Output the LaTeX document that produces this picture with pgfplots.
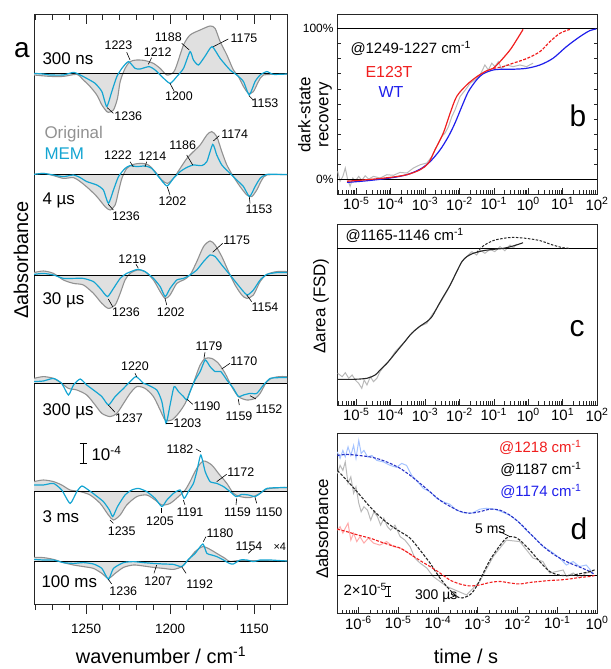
\documentclass[border=0pt]{standalone}
\usepackage{fontspec}
\setmainfont{Liberation Sans}
\usepackage{pgfplots}
\usepackage{pgfplotstable}
\pgfplotsset{compat=1.18}
\usepgfplotslibrary{fillbetween}

\definecolor{mem}{RGB}{20,165,210}
\definecolor{origline}{RGB}{145,145,145}
\definecolor{origfill}{RGB}{224,224,224}
\definecolor{cred}{RGB}{240,30,30}
\definecolor{cblue}{RGB}{30,30,235}
\definecolor{lgray}{RGB}{185,185,185}
\definecolor{lblue}{RGB}{165,195,255}
\definecolor{lred}{RGB}{255,170,170}
\definecolor{dblue}{RGB}{40,50,200}
\definecolor{dblack}{RGB}{40,40,40}
\newcommand\fs[1]{\fontsize{#1}{#1}\selectfont}

% ---------- panel a: spectra (w = wavenumber, v = dA in 1e-4, relative to own baseline)
\pgfplotstableread{
w v
1281 -0.05
1271.4 -0.12
1263.5 -0.12
1255.5 -0.02
1251.6 -0.30
1247.6 -0.63
1243.6 -1.05
1240.6 -1.55
1237.7 -1.88
1236.7 -1.92
1233.7 -1.80
1231.3 -1.22
1229.7 -0.38
1226.8 0.28
1223.8 0.62
1219.8 0.70
1214.9 0.67
1209.9 0.53
1205.9 0.28
1201.9 -0.05
1198 0.08
1196 0.45
1192 1.45
1188.1 1.95
1182.1 2.20
1176.2 2.40
1173.2 2.28
1170.2 1.62
1166.2 0.95
1162.3 0.20
1159.3 -0.13
1156.3 -0.63
1153.3 -0.97
1150.4 -0.88
1147.4 -0.38
1144.4 -0.05
1134.5 -0.02
1130.4 0
}\oA
\pgfplotstableread{
w v
1281 0.03
1275.4 0
1271.4 -0.05
1263.5 -0.05
1257.5 0.08
1253.5 -0.05
1249.6 -0.22
1244.6 -0.47
1240.6 -0.88
1237.7 -1.63
1234.7 -0.88
1231.7 -0.13
1228.7 0.28
1224.8 0.62
1220.8 0.28
1217.8 0.25
1212.5 0.37
1208.9 0.20
1204.9 -0.13
1200.0 -0.47
1196 -0.13
1192 0.28
1188.1 1.12
1186.1 0.70
1183.1 0.45
1179.1 0.90
1175.0 1.37
1170.2 0.78
1164.3 0.20
1160.3 -0.05
1156.3 -0.38
1152.9 -1.05
1149.4 -0.38
1146.4 -0.05
1142.4 0.12
1138.5 -0.02
1130.4 0
}\mA
\pgfplotstableread{
w v
1281 0.03
1275.4 0.08
1269.4 -0.03
1263.5 -0.17
1257.5 -0.13
1253.5 -0.33
1248.6 -0.67
1243.6 -1.08
1238.7 -1.58
1235.7 -1.75
1232.7 -1.50
1230.7 -0.83
1228.7 -0.17
1225.8 0.33
1221.8 0.53
1216.8 0.58
1212.9 0.50
1208.9 0.17
1204.9 -0.25
1201.6 -0.42
1198 -0.17
1194 0.33
1190 0.83
1186.1 1.17
1182.1 1.50
1178.1 2.00
1175.2 2.17
1172.2 1.92
1169.2 1.17
1166.2 0.50
1162.3 -0.08
1158.3 -0.58
1154.3 -1.00
1151.4 -1.08
1148.4 -0.75
1145.4 -0.25
1142.4 0
1130.4 0.02
}\oB
\pgfplotstableread{
w v
1281 0.03
1275.4 0.08
1269.4 0
1263.5 -0.08
1257.5 0
1253.5 -0.13
1249.6 -0.33
1243.6 -0.50
1239.7 -0.75
1236.7 -1.42
1233.7 -0.75
1230.7 -0.08
1226.8 0.33
1223.8 0.47
1219.8 0.42
1214.9 0.45
1210.9 0.33
1206.9 -0.08
1201.9 -0.55
1198 -0.17
1194 0.17
1190 0.38
1186.1 0.50
1181.1 0.47
1178.1 0.67
1174.6 1.53
1172.2 1.00
1169.2 0.50
1164.3 0.08
1160.3 -0.25
1156.3 -0.58
1152.7 -1.08
1149.4 -0.58
1146.4 -0.17
1142.4 0.03
1130.4 0.02
}\mB
\pgfplotstableread{
w v
1281 0.17
1275.4 0.25
1269.4 0.13
1263.5 -0.20
1257.5 -0.37
1251.6 -0.45
1245.6 -0.87
1240.6 -1.37
1236.7 -1.62
1232.7 -1.45
1229.7 -0.87
1226.8 -0.20
1223.8 0.13
1219.4 0.30
1214.9 0.22
1209.9 -0.20
1205.9 -0.78
1202.9 -1.12
1200 -0.95
1196 -0.37
1192 -0.20
1188.1 0.05
1184.1 0.72
1180.1 1.47
1176.2 1.75
1173.2 1.55
1169.2 0.97
1165.2 0.22
1161.3 -0.45
1157.3 -0.95
1154.3 -1.12
1150.4 -0.95
1146.4 -0.28
1142.4 0.08
1136.5 0.22
1130.4 0.22
}\oC
\pgfplotstableread{
w v
1281 0.08
1275.4 0.13
1269.4 0.05
1263.5 -0.12
1257.5 -0.12
1251.6 -0.12
1245.6 -0.28
1241.6 -0.62
1237.3 -1.03
1233.7 -0.62
1229.7 -0.12
1225.8 0.13
1219.4 0.33
1214.9 0.22
1209.9 -0.12
1205.9 -0.53
1202.9 -1.03
1200 -0.62
1196 -0.20
1192 -0.12
1188.1 0.05
1184.1 0.30
1180.1 0.72
1176.2 1.05
1173.2 0.97
1169.2 0.55
1164.3 0.05
1160.3 -0.37
1156.3 -0.78
1153.9 -0.95
1150.4 -0.70
1146.4 -0.20
1142.4 0.08
1136.5 0.17
1130.4 0.17
}\mC
\pgfplotstableread{
w v
1281 0.28
1275.4 0.37
1269.4 0.28
1264.5 0.03
1260.5 -0.22
1255.5 -0.30
1249.6 -0.55
1244.6 -1.05
1240.6 -1.47
1235.7 -1.63
1231.7 -1.47
1227.7 -0.97
1223.8 -0.47
1219.8 -0.13
1214.9 -0.22
1209.9 -0.63
1205.9 -1.30
1202.9 -1.80
1199 -1.80
1195 -1.47
1191 -0.97
1188.1 -0.38
1185.1 0.28
1182.1 0.95
1179.1 1.28
1175.2 1.28
1171.2 1.03
1167.2 0.53
1163.3 -0.13
1159.3 -0.63
1154.3 -0.80
1149.4 -0.72
1146.4 -0.47
1142.4 0.12
1138.5 0.32
1134.5 0.37
1130.4 0.37
}\oD
\pgfplotstableread{
w v
1281 0.12
1275.4 0.15
1269.4 0.28
1264.5 0.03
1260.5 -0.55
1257.5 -0.05
1253.5 0.25
1249.6 -0.05
1245.6 -0.30
1240.6 -0.63
1236.7 -1.05
1232.7 -0.63
1227.7 -0.22
1223.8 0.12
1220.2 0.37
1215.8 0.03
1213.9 -0.02
1207.9 -0.30
1204.9 -0.88
1202.4 -1.97
1200 -1.05
1197.6 -0.13
1195 -0.38
1192 -0.63
1190 -0.80
1188.1 -0.38
1185.1 0.20
1182.1 0.62
1179.1 1.20
1176.2 0.87
1173.2 0.62
1169.8 0.62
1166.2 0.20
1162.3 -0.22
1159.3 -0.63
1156.3 -0.55
1152.4 -0.47
1148.4 -0.47
1144.4 -0.05
1140.4 0.28
1134.5 0.32
1130.4 0.32
}\mD
\pgfplotstableread{
w v
1281 0.47
1275.4 0.55
1269.4 0.47
1264.5 0.30
1259.5 0.05
1253.5 -0.03
1247.6 -0.20
1241.6 -0.62
1236.7 -1.20
1233.7 -1.45
1229.7 -1.20
1225.8 -0.70
1219.8 -0.28
1213.9 -0.20
1208.9 -0.45
1204.9 -0.70
1200 -0.62
1195 -0.28
1191 0.05
1188.1 0.47
1184.1 1.13
1180.1 1.50
1175.2 1.30
1171.2 0.88
1166.2 0.38
1162.3 -0.12
1158.3 -0.28
1152.4 -0.33
1146.4 -0.12
1142.4 0.10
1134.5 0.17
1130.4 0.17
}\oE
\pgfplotstableread{
w v
1281 0.30
1275.4 0.30
1269.4 0.38
1264.5 0.05
1259.5 -0.62
1255.5 -0.03
1252.5 0.25
1248.6 0.05
1244.6 -0.20
1239.7 -0.53
1236.1 -0.95
1234.1 -1.28
1231.3 -0.78
1226.8 -0.20
1222.8 0.05
1218.8 0.13
1213.9 -0.03
1208.9 -0.37
1204.9 -0.78
1201.9 -0.45
1198 -0.12
1194 0.05
1191.6 -0.37
1189.1 -0.03
1186.1 0.38
1184.1 0.97
1181.7 1.80
1179.1 0.97
1176.2 0.47
1172.2 0.38
1168.2 0.22
1164.3 -0.03
1160.7 -0.28
1157.3 -0.17
1153.3 -0.20
1149.4 -0.28
1146.4 -0.12
1142.4 0.13
1134.5 0.17
1130.4 0.17
}\mE
\pgfplotstableread{
w v
1281 0.18
1275.4 0.17
1269.4 0.08
1263.5 -0.08
1257.5 -0.20
1251.6 -0.28
1245.6 -0.37
1240.6 -0.62
1236.7 -0.87
1232.7 -0.62
1227.7 -0.32
1221.8 -0.20
1215.8 -0.25
1209.9 -0.32
1203.9 -0.37
1198 -0.42
1193 -0.28
1189.1 0.05
1185.1 0.47
1180.5 0.72
1176.2 0.58
1172.2 0.38
1167.2 0.13
1164.3 -0.03
1158.3 0.02
1130.4 0
}\oF
\pgfplotstableread{
w v
1281 0.08
1275.4 0.05
1269.4 0.05
1263.5 -0.08
1257.5 -0.12
1251.6 -0.08
1245.6 -0.15
1240.6 -0.37
1236.7 -0.92
1233.7 -0.37
1227.7 -0.08
1221.8 -0.03
1215.8 -0.08
1209.9 -0.12
1203.9 -0.15
1198 -0.17
1193 -0.28
1189.1 0.08
1185.1 0.38
1180.5 0.85
1178.1 0.38
1175.2 0.30
1172.2 0.22
1168.2 0.05
1164.7 -0.12
1162.3 -0.15
1158.3 0.05
1154.3 0.05
1150.4 -0.03
1146.4 0.05
1140.4 0.05
1134.5 0.02
1130.4 0
}\mF

% ---------- panel b (lt = log10 time/s, y = %)
\pgfplotstableread{
lt y
-5.27 -1
-4.69 0
-4.02 1.5
-3.53 3.3
-3.14 6.6
-2.90 11
-2.71 19.8
-2.47 30.8
-2.27 44
-2.08 55
-1.79 62.6
-1.50 68
-1.21 72
-1.02 73.6
-0.82 78
-0.53 85.7
-0.34 92.3
-0.15 99.3
}\bRed
\pgfplotstableread{
lt y
-1.02 73.6
-0.73 74.7
-0.44 77
-0.05 80
0.34 84.6
0.63 91.2
0.92 96.7
1.21 99.3
}\bRedD
\pgfplotstableread{
lt y
-5.27 -1.8
-4.69 -0.7
-4.02 1.1
-3.53 3.3
-3.14 7
-2.85 12
-2.56 19.8
-2.32 28.6
-2.13 37.4
-1.93 48.4
-1.74 58.2
-1.50 66
-1.31 70
-1.02 72.5
-0.73 73
-0.44 73
-0.05 73.6
0.34 75.8
0.72 80.2
1.11 87.9
1.50 94.5
1.79 98.5
1.98 99.6
}\bBlue
\pgfplotstableread{
lt y
-5.54 5.5
-5.47 -1
-5.39 2.2
-5.32 7.7
-5.25 0
-5.18 -4.4
-5.10 1.1
-5.03 -1
-4.93 2.2
-4.84 -0.4
-4.74 2.6
-4.64 0.4
-4.50 2.2
-4.31 1.1
-4.11 3.3
-3.92 2.9
-3.73 4.8
-3.53 4.4
-3.34 7.7
-3.14 9.9
-2.95 11
-2.80 15.4
-2.66 22
-2.51 28.6
-2.42 30.8
-2.32 35
-2.22 41.8
-2.13 46
-1.98 55
-1.83 59.3
-1.69 63.7
-1.55 66
-1.40 69.2
-1.26 75.8
-1.16 72.5
-1.06 77
-0.97 74.7
-0.87 78
-0.78 73.6
-0.63 75.8
-0.44 74.7
-0.24 75.8
-0.05 74.7
0.14 77
}\bGray

% ---------- panel c
\pgfplotstableread{
lt y
-5.54 0
-5.08 0
-4.69 0.008
-4.45 0.033
-4.31 0.071
-4.11 0.122
-3.87 0.198
-3.63 0.275
-3.39 0.351
-3.14 0.407
-2.95 0.44
-2.80 0.478
-2.61 0.567
-2.47 0.631
-2.27 0.72
-2.08 0.822
-1.93 0.898
-1.79 0.936
-1.60 0.962
-1.31 0.982
-1.02 0.992
-0.73 1.0
-0.44 1.018
-0.15 1.043
}\cBlack
\pgfplotstableread{
lt y
-1.50 0.967
-1.31 1.018
-1.02 1.059
-0.73 1.076
-0.44 1.084
-0.05 1.076
0.34 1.059
0.72 1.025
1.01 1.005
1.21 1.0
}\cDash
\pgfplotstableread{
lt y
-5.54 0.046
-5.41 0.020
-5.32 0.051
-5.22 0.008
-5.12 0.033
-5.03 -0.005
-4.93 -0.031
-4.84 -0.069
-4.77 -0.005
-4.69 -0.043
-4.59 0.020
-4.50 -0.018
-4.40 0.008
-4.31 0.059
-4.16 0.109
-4.02 0.148
-3.87 0.211
-3.73 0.249
-3.58 0.288
-3.44 0.338
-3.29 0.377
-3.14 0.407
-2.95 0.427
-2.80 0.491
-2.66 0.542
-2.51 0.606
-2.37 0.669
-2.22 0.746
-2.08 0.822
-1.93 0.898
-1.79 0.936
-1.64 0.975
-1.50 0.949
-1.40 0.987
-1.26 0.962
-1.11 0.992
-0.97 0.975
-0.82 1.013
-0.68 0.982
-0.53 1.025
-0.44 1.0
-0.34 1.033
}\cGray

% ---------- panel d (v in 1e-5)
\pgfplotstableread{
lt v
-6.53 24.1
-6.29 24.3
-6.00 24.1
-5.71 23.8
-5.46 23.3
-5.20 22.5
-4.95 21.5
-4.70 20.1
-4.45 18.5
-4.20 16.8
-3.95 15.1
-3.70 13.9
-3.45 12.9
-3.20 12.5
-2.95 12.8
-2.69 13.3
-2.44 13.1
-2.19 12.1
-1.94 10.5
-1.69 8.5
-1.44 6.5
-1.19 4.8
-0.94 3.5
-0.69 2.5
-0.44 1.7
-0.18 0.8
-0.06 0.13
}\dBlueF
\pgfplotstableread{
lt v
-6.53 24.8
-6.46 23.5
-6.39 25.1
-6.33 23.8
-6.26 25.8
-6.19 24.1
-6.12 26.1
-6.06 23.5
-5.99 27.1
-5.93 24.5
-5.86 25.1
-5.77 23.8
-5.66 24.1
-5.54 23.1
-5.37 22.8
-5.20 22.1
-5.04 21.7
-4.91 22.5
-4.79 22.1
-4.66 20.1
-4.54 19.1
-4.37 17.5
-4.20 16.8
-4.03 15.5
-3.87 14.8
-3.70 14.3
-3.53 13.1
-3.36 12.6
-3.15 12.5
-2.95 13.3
-2.78 13.5
-2.57 13.3
-2.40 12.8
-2.19 12.1
-1.98 10.8
-1.78 9.1
-1.56 7.5
-1.36 5.8
-1.15 4.8
-0.94 3.5
-0.77 2.1
-0.60 2.8
-0.44 1.8
-0.27 2.1
-0.10 0.5
}\dBlueD
\pgfplotstableread{
lt v
-6.53 21.1
-6.29 19.1
-6.00 16.5
-5.71 13.8
-5.46 11.8
-5.20 10.1
-4.95 8.8
-4.70 7.5
-4.45 5.1
-4.20 2.5
-3.95 -0.5
-3.70 -2.9
-3.45 -4.5
-3.20 -3.9
-3.03 -2.2
-2.86 0.5
-2.69 3.1
-2.49 5.5
-2.28 7.5
-2.11 7.8
-1.94 7.1
-1.69 5.1
-1.44 2.8
-1.19 0.8
-0.94 0.07
-0.69 0
-0.44 0.33
-0.18 0.8
-0.06 1.13
}\dBlackF
\pgfplotstableread{
lt v
-6.53 20.5
-6.46 22.1
-6.39 21.1
-6.33 22.8
-6.26 18.5
-6.19 19.8
-6.12 16.5
-6.06 17.8
-5.99 14.5
-5.93 12.8
-5.86 13.8
-5.77 13.1
-5.69 11.1
-5.61 12.8
-5.52 11.8
-5.44 10.1
-5.36 11.5
-5.27 9.8
-5.19 9.1
-5.08 10.1
-4.95 7.8
-4.83 7.1
-4.70 5.8
-4.58 3.5
-4.45 2.5
-4.28 1.5
-4.12 -0.2
-3.95 -1.2
-3.78 -2.2
-3.28 -3.9
-2.95 -1.2
-2.61 3.8
-2.28 7.1
-1.94 6.8
-1.61 3.5
-1.36 2.8
-1.19 0.5
-1.02 0.8
-0.85 1.1
-0.77 -0.2
-0.60 0.5
-0.44 -0.5
-0.27 0.5
-0.10 0.8
}\dBlackD
\pgfplotstableread{
lt v
-6.53 9.3
-6.29 8.8
-6.00 8.1
-5.71 7.5
-5.46 6.8
-5.20 6.1
-4.95 5.5
-4.70 4.3
-4.45 3.0
-4.20 1.8
-3.95 0.5
-3.70 -0.9
-3.45 -1.7
-3.20 -2.1
-2.95 -1.9
-2.69 -1.4
-2.44 -1.2
-2.19 -1.5
-1.94 -1.7
-1.69 -1.4
-1.44 -1.2
-1.19 -1.0
-0.94 -0.9
-0.69 -0.7
-0.44 -0.4
-0.18 -0.2
-0.06 0
}\dRedF
\pgfplotstableread{
lt v
-6.53 9.1
-6.46 9.8
-6.39 8.5
-6.33 9.5
-6.26 10.5
-6.19 7.1
-6.12 8.5
-6.04 6.8
-5.96 7.8
-5.86 6.5
-5.75 7.5
-5.62 6.5
-5.46 6.1
-5.29 6.8
-5.12 5.8
-4.95 5.5
-4.79 4.8
-4.62 3.8
}\dRedD

\newcommand\spec[4]{%
  \addplot[draw=none, smooth, tension=0.45, name path=g#4] table[x=w, y expr=\thisrow{v}+#3]{#1};
  \addplot[draw=none, name path=z#4] coordinates {(1281,#3) (1130.4,#3)};
  \addplot[origfill] fill between[of=g#4 and z#4];
  \addplot[origline, line width=1.1pt, smooth, tension=0.45] table[x=w, y expr=\thisrow{v}+#3]{#1};
  \addplot[black, line width=1pt] coordinates {(1281,#3) (1130.4,#3)};
  \addplot[mem, line width=1.2pt, smooth, tension=0.35] table[x=w, y expr=\thisrow{v}+#3]{#2};
}

\pgfplotsset{
  pa/.style={at={(34bp,655bp)}, anchor=north west, scale only axis, width=253bp, height=590bp,
    xmin=1130.4, xmax=1281, x dir=reverse, ymin=0, ymax=29.5, ytick=\empty,
    xtick={1150,1200,1250}, minor xtick={1140,1160,1170,1180,1190,1210,1220,1230,1240,1260,1270,1280},
    major tick length=10bp, minor tick length=6bp,
    axis line style={line width=0.9pt, black!85}, tick style={line width=0.8pt, black!85}},
  rp/.style={anchor=north west, scale only axis, width=260bp,
    xtick pos=left, tick align=inside, major tick length=6bp, minor tick length=3.5bp,
    axis line style={line width=0.9pt, black!85}, tick style={line width=0.6pt, black!85},
    ticklabel style={font=\fs{15}}},
  bcx/.style={xmin=2.75e-6, xmax=100,
    xtick={1e-5,1e-4,1e-3,1e-2,1e-1,1,10,100},
    xticklabels={10\textsuperscript{-5},10\textsuperscript{-4},10\textsuperscript{-3},10\textsuperscript{-2},10\textsuperscript{-1},10\textsuperscript{0},10\textsuperscript{1},10\textsuperscript{2}},
    minor xtick={3e-6,4e-6,5e-6,6e-6,7e-6,8e-6,9e-6,2e-5,3e-5,4e-5,5e-5,6e-5,7e-5,8e-5,9e-5,2e-4,3e-4,4e-4,5e-4,6e-4,7e-4,8e-4,9e-4,2e-3,3e-3,4e-3,5e-3,6e-3,7e-3,8e-3,9e-3,2e-2,3e-2,4e-2,5e-2,6e-2,7e-2,8e-2,9e-2,0.2,0.3,0.4,0.5,0.6,0.7,0.8,0.9,2,3,4,5,6,7,8,9,20,30,40,50,60,70,80,90}},
  fit/.style={smooth, tension=0.5}
}

\begin{document}
\begin{tikzpicture}

% ===== panel a
\begin{axis}[pa, xtick pos=left, tick align=outside,
  xticklabels={1150,1200,1250}, xticklabel style={font=\fs{13.5}, yshift=-7bp}]
\spec{\oA}{\mA}{26.5}{A}
\spec{\oB}{\mB}{21.45}{B}
\spec{\oC}{\mC}{16.4}{C}
\spec{\oD}{\mD}{11.0}{D}
\spec{\oE}{\mE}{5.65}{E}
\spec{\oF}{\mF}{2.15}{F}
\end{axis}
\begin{axis}[pa, axis x line*=top, axis y line=none, tick align=inside, xticklabels={}]
\addplot[draw=none] coordinates {(1200,10) (1210,12)};
\end{axis}

% ===== panel b
\begin{semilogxaxis}[rp, bcx, at={(337bp,655bp)}, height=180bp, ymin=-9.45, ymax=109.5,
  ytick={0,100}, yticklabels={0\%,100\%}, minor ytick={10,20,30,40,50,60,70,80,90},
  ytick pos=both, yticklabel pos=left, yticklabel style={font=\fs{12}}]
\addplot[lgray, line width=1pt] table[x expr=10^\thisrow{lt}, y=y]{\bGray};
\addplot[black, line width=0.7pt] coordinates {(2.75e-6,0) (100,0)};
\addplot[black, line width=0.7pt] coordinates {(2.75e-6,100) (100,100)};
\addplot[cblue, line width=1.2pt, fit] table[x expr=10^\thisrow{lt}, y=y]{\bBlue};
\addplot[cred, line width=1.2pt, fit, dash pattern=on 3pt off 1.5pt] table[x expr=10^\thisrow{lt}, y=y]{\bRedD};
\addplot[cred, line width=1.2pt, fit] table[x expr=10^\thisrow{lt}, y=y]{\bRed};
\end{semilogxaxis}

% ===== panel c
\begin{semilogxaxis}[rp, bcx, at={(337bp,445bp)}, height=181bp, ymin=-0.196, ymax=1.186, ytick=\empty]
\addplot[lgray, line width=1pt] table[x expr=10^\thisrow{lt}, y=y]{\cGray};
\addplot[black, line width=0.7pt] coordinates {(2.75e-6,1) (100,1)};
\addplot[dblack, line width=1pt, fit, dash pattern=on 2.5pt off 1.5pt] table[x expr=10^\thisrow{lt}, y=y]{\cDash};
\addplot[dblack, line width=1.1pt, fit] table[x expr=10^\thisrow{lt}, y=y]{\cBlack};
\end{semilogxaxis}

% ===== panel d
\begin{semilogxaxis}[rp, at={(337bp,236bp)}, height=180bp, xmin=2.9e-7, xmax=1, ymin=-7.53, ymax=28.6, ytick=\empty,
  xtick={1e-6,1e-5,1e-4,1e-3,1e-2,1e-1,1},
  xticklabels={10\textsuperscript{-6},10\textsuperscript{-5},10\textsuperscript{-4},10\textsuperscript{-3},10\textsuperscript{-2},10\textsuperscript{-1},10\textsuperscript{0}},
  minor xtick={3e-7,4e-7,5e-7,6e-7,7e-7,8e-7,9e-7,2e-6,3e-6,4e-6,5e-6,6e-6,7e-6,8e-6,9e-6,2e-5,3e-5,4e-5,5e-5,6e-5,7e-5,8e-5,9e-5,2e-4,3e-4,4e-4,5e-4,6e-4,7e-4,8e-4,9e-4,2e-3,3e-3,4e-3,5e-3,6e-3,7e-3,8e-3,9e-3,2e-2,3e-2,4e-2,5e-2,6e-2,7e-2,8e-2,9e-2,0.2,0.3,0.4,0.5,0.6,0.7,0.8,0.9}]
\addplot[lblue, line width=1pt] table[x expr=10^\thisrow{lt}, y=v]{\dBlueD};
\addplot[lgray, line width=1pt] table[x expr=10^\thisrow{lt}, y=v]{\dBlackD};
\addplot[lred, line width=1pt] table[x expr=10^\thisrow{lt}, y=v]{\dRedD};
\addplot[black, line width=0.7pt] coordinates {(2.9e-7,0) (1,0)};
\addplot[dblue, line width=1.1pt, fit, dash pattern=on 3pt off 1.5pt] table[x expr=10^\thisrow{lt}, y=v]{\dBlueF};
\addplot[dblack, line width=1.1pt, fit, dash pattern=on 3pt off 1.5pt] table[x expr=10^\thisrow{lt}, y=v]{\dBlackF};
\addplot[cred, line width=1.1pt, fit, dash pattern=on 3pt off 1.5pt] table[x expr=10^\thisrow{lt}, y=v]{\dRedF};
\end{semilogxaxis}

\begin{scope}[x=1bp, y=-1bp, yshift=669bp]
% ===== annotations panel a
\node[font=\fs{28}] at (22,50) {a};
\begin{scope}[every node/.style={anchor=base west, font=\fs{17}}]
\node at (39,65) {300 ns};
\node[text=origline] at (41,139) {Original};
\node[text=mem] at (41,160) {MEM};
\node at (39,205) {4 µs};
\node at (39,305) {30 µs};
\node at (39,416) {300 µs};
\node at (39,522.7) {3 ms};
\node at (38,587.3) {100 ms};
\node at (88,461) {10\textsuperscript{-4}};
\end{scope}
\draw[line width=0.9pt] (83,443)--(83,463) (79.5,443)--(86.5,443) (79.5,463)--(86.5,463);
\node[anchor=base west, font=\fs{11}] at (270,551) {×4};

\begin{scope}[every node/.style={font=\fs{12.5}}, line width=0.6pt]
% 300 ns
\node at (118.5,45) {1223}; \draw (126.7,52.3)--(130,60);
\node at (157.7,51.7) {1212}; \draw (151.7,57.7)--(148.3,64.3);
\node at (168.3,37.5) {1188}; \draw (181.7,43.3)--(189.3,50);
\node at (244,37.8) {1175}; \draw (228.3,39)--(213.3,46.7);
\node at (179,96.7) {1200}; \draw (170,83.3)--(174,91);
\node at (128.3,115.8) {1236}; \draw (107.3,107.7)--(113.3,113.3);
\node at (265,103) {1153}; \draw (249,95.7)--(253.3,100);
% 4 us
\node at (118,155.5) {1222}; \draw (130,161.7)--(133.3,166.7);
\node at (152.5,155.8) {1214}; \draw (146.7,161.7)--(145,166.7);
\node at (182.7,145.5) {1186}; \draw (186.7,155)--(192.7,165);
\node at (234.7,134.2) {1174}; \draw (219.3,135.7)--(213.3,141);
\node at (172.5,200.8) {1202}; \draw (167.3,186.7)--(170,195);
\node at (126,215.8) {1236}; \draw (108.3,204.3)--(113.3,210);
\node at (259,209) {1153}; \draw (249.3,196.7)--(250,203.3);
% 30 us
\node at (132.3,258.8) {1219}; \draw (136,264.3)--(138.3,268.3);
\node at (236.7,240.3) {1175}; \draw (222.7,243.3)--(212.7,252.3);
\node at (126,312.5) {1236}; \draw (108.3,299)--(112.7,306.7);
\node at (170.8,312.5) {1202}; \draw (165,298.3)--(166.7,305);
\node at (265,307.5) {1154}; \draw (246.7,295)--(251.7,301.7);
% 300 us
\node at (135,366.7) {1220}; \draw (135,373.3)--(136.7,376.7);
\node at (209,346.7) {1179}; \draw (205,352.3)--(204,358.3);
\node at (243.8,361.7) {1170}; \draw (230,363.3)--(221.7,369);
\node at (129,418) {1237}; \draw (108.3,405)--(115,412.3);
\node at (187.5,423.3) {1203}; \draw (166,423.3)--(173.3,423.3);
\node at (207,406.3) {1190}; \draw (186.7,399)--(192.7,404.3);
\node at (239,416.3) {1159}; \draw (238.3,399)--(239.3,405);
\node at (269,409.7) {1152}; \draw (250,395.7)--(256,399);
% 3 ms
\node at (180,448.8) {1182}; \draw (196,449)--(200.7,451.7);
\node at (240.8,472) {1172}; \draw (226.7,474.3)--(216.7,481.7);
\node at (121.7,530.8) {1235}; \draw (110,520)--(113.3,523.3);
\node at (160,520.8) {1205}; \draw (161.7,508.3)--(161.7,513.3);
\node at (190,512) {1191}; \draw (183.3,500)--(185,505);
\node at (237.5,512.5) {1159}; \draw (236.7,498.3)--(236,505);
\node at (269,512.5) {1150}; \draw (255,497.3)--(256.7,503.3);
% 100 ms
\node at (220,532.8) {1180}; \draw (203.3,541.7)--(206,536.7);
\node at (249,546.7) {1154}; \draw (248.3,553.3)--(251.7,550);
\node at (123.3,591.7) {1236}; \draw (108.3,579.3)--(111.7,584);
\node at (158.3,581.3) {1207}; \draw (156.7,565)--(154,573.3);
\node at (199.7,583.8) {1192}; \draw (181.7,566.7)--(186,573.3);
\end{scope}

% axis titles
\node[rotate=90, font=\fs{20}] at (21,260) {Δabsorbance};
\node[anchor=base, font=\fs{20}] at (161,664) {wavenumber / cm\textsuperscript{-1}};
\node[anchor=base, font=\fs{20}] at (466,664) {time / s};
\node[rotate=90, font=\fs{17}, align=center] at (315,115) {dark-state\\[1pt]recovery};
\node[rotate=90, font=\fs{17}] at (321,306) {Δarea (FSD)};
\node[rotate=90, font=\fs{17}] at (322,529) {Δabsorbance};

% panel b texts
\node[anchor=base west, font=\fs{15}] at (347,53.3) {@1249-1227 cm\textsuperscript{-1}};
\node[anchor=base west, font=\fs{16}, text=cred] at (362,77.3) {E123T};
\node[anchor=base west, font=\fs{16}, text=cblue] at (375,97.3) {WT};
\node[anchor=base west, font=\fs{30}] at (566,126.7) {b};
% panel c texts
\node[anchor=base west, font=\fs{15}] at (342,240.7) {@1165-1146 cm\textsuperscript{-1}};
\node[anchor=base west, font=\fs{30}] at (566,336.7) {c};
% panel d texts
\node[anchor=base east, font=\fs{15}, text=cred] at (585,452.7) {@1218 cm\textsuperscript{-1}};
\node[anchor=base east, font=\fs{15}] at (585,475) {@1187 cm\textsuperscript{-1}};
\node[anchor=base east, font=\fs{15}, text=cblue] at (585,496.7) {@1174 cm\textsuperscript{-1}};
\node[anchor=base west, font=\fs{30}] at (567,540) {d};
\node[anchor=base west, font=\fs{14}] at (471.7,533.3) {5 ms};
\draw[line width=0.6pt] (500,531.7)--(510,536.7);
\node[anchor=base west, font=\fs{14}] at (411.7,599.3) {300 µs};
\draw[line width=0.6pt] (450,598)--(456.7,595);
\node[anchor=base west, font=\fs{15}] at (340,596) {2×10\textsuperscript{-5}};
\draw[line width=0.9pt] (388.3,586.7)--(388.3,596.7) (385.3,586.7)--(391.3,586.7) (385.3,596.7)--(391.3,596.7);
\end{scope}

\pgfresetboundingbox
\path[use as bounding box] (0,0) rectangle (611bp,669bp);
\end{tikzpicture}
\end{document}
